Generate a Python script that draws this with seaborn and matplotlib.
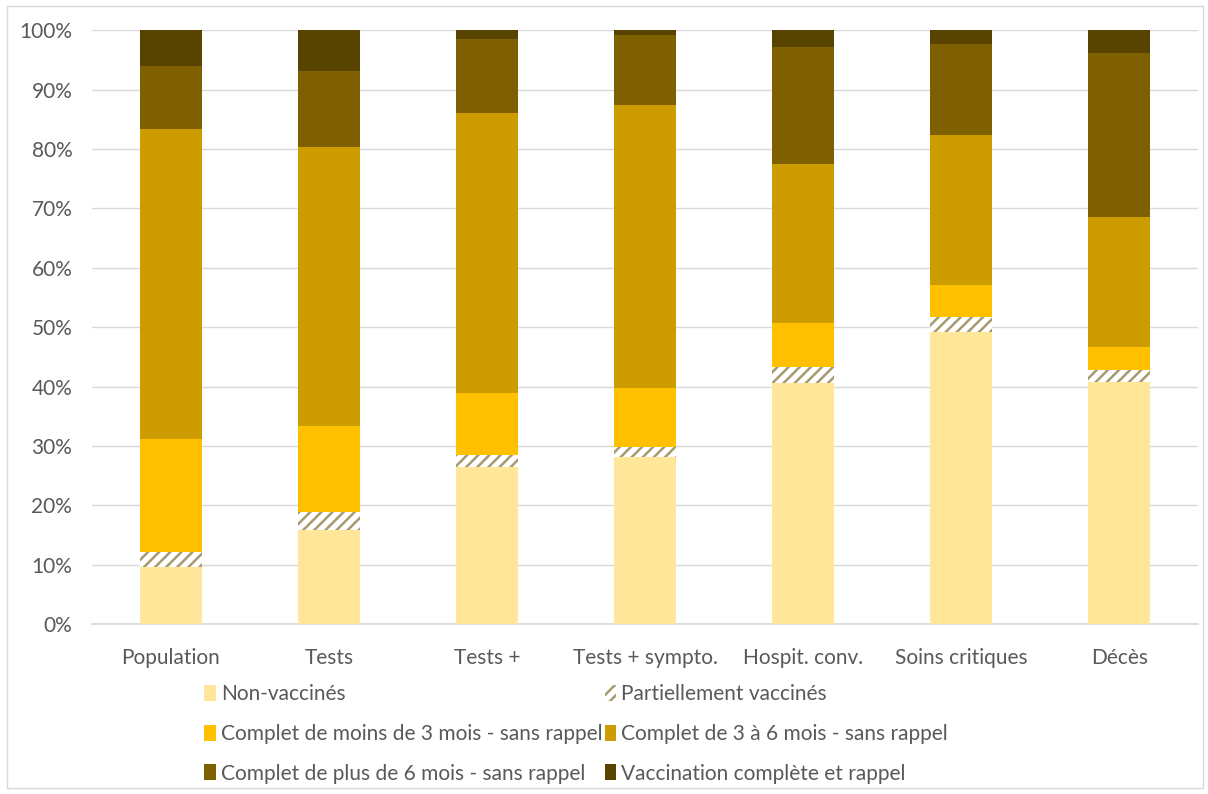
import numpy as np
import pandas as pd
import seaborn as sns
import matplotlib.pyplot as plt
from matplotlib.patches import Rectangle
from matplotlib.ticker import PercentFormatter

# données (% par catégorie, chaque colonne = 100 %)
categories = ['Population', 'Tests', 'Tests +', 'Tests + sympto.',
              'Hospit. conv.', 'Soins critiques', 'Décès']
non_vaccines = [9.6, 15.8, 26.4, 28.1, 40.6, 49.2, 40.7]
partiel = [2.5, 3.1, 2.1, 1.7, 2.7, 2.5, 2.1]
moins_3_mois = [19.0, 14.4, 10.4, 9.9, 7.4, 5.4, 3.8]
de_3_a_6_mois = [52.2, 47.1, 47.1, 47.7, 26.7, 25.2, 21.9]
plus_6_mois = [10.7, 12.7, 12.5, 11.8, 19.8, 15.3, 27.7]
rappel = [6.0, 6.9, 1.5, 0.8, 2.8, 2.4, 3.8]

series = {
    'Non-vaccinés': non_vaccines,
    'Partiellement vaccinés': partiel,
    'Complet de moins de 3 mois - sans rappel': moins_3_mois,
    'Complet de 3 à 6 mois - sans rappel': de_3_a_6_mois,
    'Complet de plus de 6 mois - sans rappel': plus_6_mois,
    'Vaccination complète et rappel': rappel,
}
colors = ['#FFE699', '#FFFFFF', '#FFC000', '#CC9C00', '#7F6000', '#584300']
hatch_col = '#A69A70'

sns.set_theme(style='white')
plt.rcParams['font.family'] = ['Lato', 'DejaVu Sans']
plt.rcParams['hatch.linewidth'] = 1.8

df = pd.DataFrame(series, index=categories)
cum = df.cumsum(axis=1)

fig, ax = plt.subplots(figsize=(12.08, 7.94), dpi=100)
fig.subplots_adjust(left=0.076, right=0.992, bottom=0.214, top=0.962)

# empilement : on dessine les cumuls du plus haut au plus bas
names = list(series.keys())
for i in range(len(names) - 1, -1, -1):
    name = names[i]
    d = pd.DataFrame({'cat': categories, 'val': cum[name].values})
    kw = dict(color=colors[i], linewidth=0, edgecolor=colors[i])
    if name == 'Partiellement vaccinés':
        kw.update(hatch='///', edgecolor=hatch_col)
    sns.barplot(data=d, x='cat', y='val', order=categories, width=0.39,
                saturation=1, label=name, ax=ax, zorder=3, **kw)

ax.set_ylim(0, 100)
ax.set_xlim(-0.5, 6.5)
ax.set_yticks(np.arange(0, 101, 10))
ax.yaxis.set_major_formatter(PercentFormatter(decimals=0))
ax.set_xlabel('')
ax.set_ylabel('')
ax.grid(axis='y', color='#D9D9D9', linewidth=1, zorder=0)
for s in ['top', 'right', 'left']:
    ax.spines[s].set_visible(False)
ax.spines['bottom'].set_color('#D9D9D9')
ax.tick_params(axis='both', length=0, labelsize=15, colors='#595959')
ax.tick_params(axis='x', pad=17)
ax.tick_params(axis='y', pad=14)

# légende à deux colonnes (ordre par ligne comme l'original)
handles, labels = ax.get_legend_handles_labels()
lookup = dict(zip(labels, handles))
order = [names[0], names[2], names[4], names[1], names[3], names[5]]
ax.legend([lookup[n] for n in order], order, ncol=2, loc='upper left',
          bbox_to_anchor=(0.094, -0.087), frameon=False, fontsize=15,
          labelcolor='#595959', handlelength=0.55, handleheight=0.8,
          handletextpad=0.25, columnspacing=0.1, labelspacing=0.95,
          borderaxespad=0)

# bordure de la zone de graphique
fig.patches.append(Rectangle((0.006, 0.008), 0.99, 0.984, transform=fig.transFigure,
                             fill=False, edgecolor='#D9D9D9', linewidth=1))

fig.savefig('out.png', dpi=100)
